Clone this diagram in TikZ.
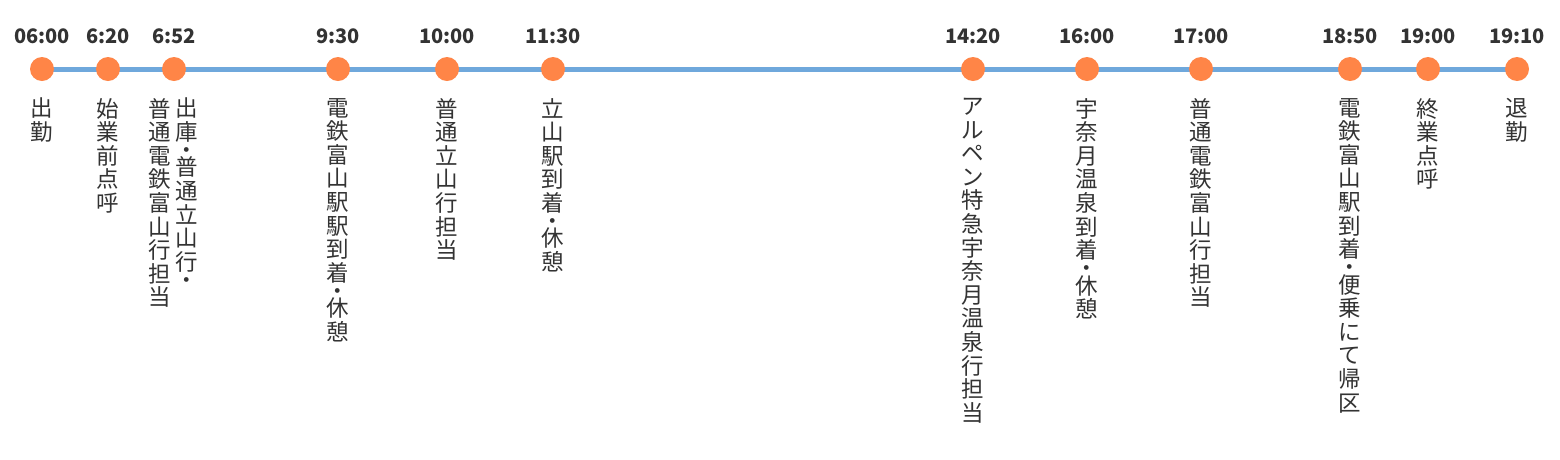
\documentclass[tikz,border=0pt]{standalone}
\usepackage{fontspec}
\setmainfont{Noto Sans CJK JP}
\definecolor{tline}{HTML}{6FA8DC}
\definecolor{tdot}{HTML}{FF8547}
\definecolor{ttext}{HTML}{333333}
\newcommand\vdt{\\[-5.9pt]・\\[-5.9pt]}
\newcommand\vdtend{\\[-5.9pt]・}
\begin{document}
\begin{tikzpicture}[x=1pt,y=-1pt,
  dotn/.style={circle,fill=tdot,minimum size=24pt,inner sep=0pt},
  timen/.style={text=ttext,font=\bfseries\fontsize{20pt}{22pt}\selectfont,inner sep=0pt},
  vlab/.style={text=ttext,font=\fontsize{22.5pt}{23.6pt}\selectfont,align=center,anchor=north,inner sep=0pt}]
\useasboundingbox (0,0) rectangle (1560,459);
\foreach \n/\x/\t in {a/42/06:00,b/108/6:20,c/174/6:52,d/338/9:30,e/447/10:00,f/553/11:30,g/973/14:20,h/1087/16:00,i/1201/17:00,j/1350/18:50,k/1428/19:00,l/1517/19:10}{
  \coordinate (\n) at (\x,69);
  \node[timen] (t\n) at (\x,36) {\t};
}
\draw[tline,line width=5pt] (a) -- (l);
\foreach \n in {a,b,c,d,e,f,g,h,i,j,k,l}{
  \node[dotn] (d\n) at (\n) {};
}
\node[vlab] (la) at (42,98) {出\\勤};
\node[vlab] (lb) at (108,98) {始\\業\\前\\点\\呼};
\node[vlab] (lc1) at (187,98) {出\\庫\vdt 普\\通\\立\\山\\行\vdtend};
\node[vlab] (lc2) at (160,98) {普\\通\\電\\鉄\\富\\山\\行\\担\\当};
\node[vlab] (ld) at (338,98) {電\\鉄\\富\\山\\駅\\駅\\到\\着\vdt 休\\憩};
\node[vlab] (le) at (447,98) {普\\通\\立\\山\\行\\担\\当};
\node[vlab] (lf) at (553,98) {立\\山\\駅\\到\\着\vdt 休\\憩};
\node[vlab] (lg) at (973,98) {ア\\ル\\ペ\\ン\\特\\急\\宇\\奈\\月\\温\\泉\\行\\担\\当};
\node[vlab] (lh) at (1087,98) {宇\\奈\\月\\温\\泉\\到\\着\vdt 休\\憩};
\node[vlab] (li) at (1201,98) {普\\通\\電\\鉄\\富\\山\\行\\担\\当};
\node[vlab] (lj) at (1350,98) {電\\鉄\\富\\山\\駅\\到\\着\vdt 便\\乗\\に\\て\\帰\\区};
\node[vlab] (lk) at (1428,98) {終\\業\\点\\呼};
\node[vlab] (ll) at (1517,98) {退\\勤};
\end{tikzpicture}
\end{document}
